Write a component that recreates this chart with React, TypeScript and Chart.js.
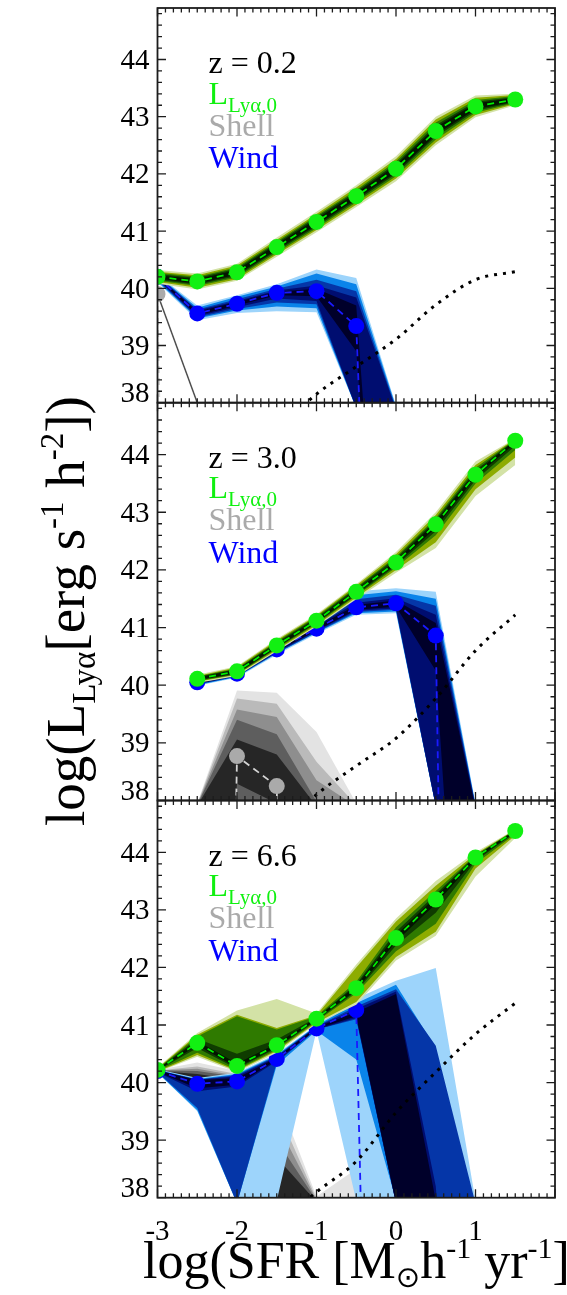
import { useEffect, useRef } from 'react';
import { Chart, registerables } from 'chart.js';

Chart.register(...registerables);

const SERIF = "'Liberation Serif', 'Times New Roman', serif";
const SYMBOL = "'DejaVu Sans', sans-serif";
const W = 567;
const H = 1295;

// log SFR grid shared by every curve
const logSFR = [-3, -2.5, -2, -1.5, -1, -0.5, 0, 0.5, 1, 1.5];
// stand-in for luminosities far below the plotted range
const F = 30;

const redshifts = ['0.2', '3.0', '6.6'];
const yTicks = [38, 39, 40, 41, 42, 43, 44];
const xTicks = [-3, -2, -1, 0, 1];

type Vals = (number | null)[];
type Band = [Vals, Vals]; // [lower, upper], outermost first

// ---------- z = 0.2 ----------
const z02IntrinsicMed: Vals = [40.2, 40.12, 40.28, 40.72, 41.16, 41.61, 42.09, 42.75, 43.18, 43.3];
const z02IntrinsicBands: Band[] = [
  [[40.08, 39.98, 40.13, 40.55, 40.98, 41.42, 41.87, 42.5, 42.99, 43.2], [40.32, 40.26, 40.43, 40.89, 41.34, 41.8, 42.31, 43.0, 43.37, 43.4]],
  [[40.11, 40.01, 40.16, 40.59, 41.02, 41.46, 41.92, 42.55, 43.03, 43.22], [40.29, 40.23, 40.4, 40.85, 41.3, 41.76, 42.26, 42.95, 43.33, 43.38]],
  [[40.13, 40.04, 40.19, 40.62, 41.05, 41.5, 41.96, 42.6, 43.07, 43.24], [40.27, 40.2, 40.37, 40.82, 41.27, 41.72, 42.22, 42.9, 43.29, 43.36]],
  [[40.15, 40.06, 40.215, 40.65, 41.08, 41.53, 42.0, 42.65, 43.1, 43.255], [40.25, 40.18, 40.345, 40.79, 41.24, 41.69, 42.18, 42.85, 43.26, 43.345]],
  [[40.17, 40.08, 40.24, 40.675, 41.11, 41.56, 42.03, 42.685, 43.13, 43.27], [40.23, 40.16, 40.32, 40.765, 41.21, 41.66, 42.15, 42.815, 43.23, 43.33]],
];
const z02ShellMed: Vals = [39.9, 0];
const z02ShellBands: Band[] = [
  [[39.85, 37.95], [39.95, 38.05]],
  [[39.86, 37.96], [39.94, 38.04]],
  [[39.87, 37.97], [39.93, 38.03]],
  [[39.88, 37.98], [39.92, 38.02]],
  [[39.89, 37.99], [39.91, 38.01]],
];
const z02WindMed: Vals = [40.2, 39.56, 39.73, 39.92, 39.95, 39.34, 22];
const z02WindBands: Band[] = [
  [[40.1, 39.44, 39.57, 39.6, 39.58, 37.9, F], [40.24, 39.7, 39.88, 40.07, 40.33, 40.18, 37.95]],
  [[40.12, 39.47, 39.61, 39.68, 39.65, 37.9, F], [40.23, 39.66, 39.85, 40.03, 40.26, 40.07, 37.93]],
  [[40.14, 39.49, 39.64, 39.75, 39.72, 37.9, F], [40.22, 39.63, 39.81, 39.99, 40.15, 39.95, 37.9]],
  [[40.16, 39.51, 39.67, 39.82, 39.78, 37.9, F], [40.21, 39.61, 39.78, 39.96, 40.05, 39.84, 37.88]],
  [[40.18, 39.53, 39.7, 39.88, 39.86, 38.9, F], [40.2, 39.59, 39.76, 39.94, 39.99, 39.7, F]],
];
const z02Model: Vals = [null, null, null, 37.5, 38.15, 38.63, 39.11, 39.71, 40.15, 40.29];

// ---------- z = 3.0 ----------
const z30IntrinsicMed: Vals = [null, 40.11, 40.24, 40.69, 41.12, 41.62, 42.13, 42.79, 43.65, 44.24];
const z30IntrinsicBands: Band[] = [
  [[null, 40.04, 40.16, 40.59, 41.02, 41.49, 41.95, 42.38, 43.28, 43.82], [null, 40.18, 40.33, 40.8, 41.23, 41.75, 42.31, 43.0, 43.88, 44.28]],
  [[null, 40.06, 40.18, 40.61, 41.04, 41.52, 42.0, 42.48, 43.4, 43.95], [null, 40.16, 40.31, 40.78, 41.21, 41.73, 42.27, 42.95, 43.82, 44.27]],
  [[null, 40.07, 40.19, 40.63, 41.06, 41.55, 42.04, 42.6, 43.5, 44.08], [null, 40.15, 40.29, 40.76, 41.19, 41.7, 42.23, 42.9, 43.77, 44.26]],
  [[null, 40.08, 40.2, 40.65, 41.08, 41.57, 42.07, 42.67, 43.56, 44.15], [null, 40.14, 40.28, 40.74, 41.17, 41.68, 42.2, 42.87, 43.73, 44.255]],
  [[null, 40.09, 40.21, 40.66, 41.09, 41.59, 42.1, 42.73, 43.61, 44.2], [null, 40.13, 40.27, 40.72, 41.15, 41.65, 42.16, 42.84, 43.69, 44.25]],
];
const z30ShellMed: Vals = [null, 0, 38.77, 38.25, 0];
const z30ShellBands: Band[] = [
  [[null, F, F, F, F, F], [null, 37.95, 39.91, 39.87, 39.19, 37.95]],
  [[null, F, F, F, F, F], [null, 37.94, 39.77, 39.68, 38.67, 37.92]],
  [[null, F, F, F, F, F], [null, 37.93, 39.58, 39.45, 38.35, 37.9]],
  [[null, F, F, F, F, F], [null, 37.92, 39.4, 39.15, 37.98, 37.9]],
  [[null, F, 38.29, 37.95, F, F], [null, 37.91, 39.06, 38.8, 37.9, 37.9]],
];
const z30WindMed: Vals = [null, 40.05, 40.2, 40.62, 40.98, 41.35, 41.42, 40.86, 0];
const z30WindBands: Band[] = [
  [[null, 39.99, 40.13, 40.53, 40.89, 41.22, 41.25, 37.9, F], [null, 40.1, 40.27, 40.72, 41.1, 41.63, 41.68, 41.62, 37.95]],
  [[null, 40.0, 40.14, 40.55, 40.91, 41.25, 41.28, 37.9, F], [null, 40.09, 40.25, 40.7, 41.08, 41.56, 41.63, 41.5, 37.93]],
  [[null, 40.01, 40.15, 40.56, 40.92, 41.27, 41.31, 37.9, F], [null, 40.08, 40.24, 40.68, 41.06, 41.49, 41.57, 41.38, 37.91]],
  [[null, 40.02, 40.16, 40.57, 40.94, 41.29, 41.33, 37.9, F], [null, 40.07, 40.23, 40.66, 41.03, 41.43, 41.51, 41.22, 37.9]],
  [[null, 40.03, 40.17, 40.59, 40.95, 41.31, 41.36, 40.25, F], [null, 40.06, 40.22, 40.64, 41.01, 41.39, 41.47, 41.08, 37.86]],
];
const z30Model: Vals = [null, null, null, 37.4, 38.1, 38.6, 39.08, 39.77, 40.6, 41.22];

// ---------- z = 6.6 ----------
const z66IntrinsicMed: Vals = [40.22, 40.69, 40.29, 40.65, 41.11, 41.64, 42.51, 43.18, 43.91, 44.37];
const z66IntrinsicBands: Band[] = [
  [[40.18, 40.45, 40.18, 40.52, 41.02, 41.35, 42.12, 42.55, 43.58, 44.25], [40.26, 40.86, 41.25, 41.45, 41.2, 42.05, 42.85, 43.5, 44.0, 44.4]],
  [[40.19, 40.48, 40.2, 40.55, 41.04, 41.4, 42.18, 42.62, 43.72, 44.29], [40.25, 40.83, 41.18, 40.95, 41.17, 42.0, 42.8, 43.42, 43.97, 44.39]],
  [[40.2, 40.52, 40.22, 40.57, 41.06, 41.55, 42.28, 42.76, 43.8, 44.32], [40.24, 40.8, 41.15, 40.92, 41.15, 41.75, 42.7, 43.33, 43.95, 44.39]],
  [[40.21, 40.6, 40.24, 40.6, 41.08, 41.58, 42.38, 42.95, 43.85, 44.34], [40.23, 40.76, 40.5, 40.75, 41.13, 41.71, 42.62, 43.27, 43.94, 44.38]],
  [[40.21, 40.65, 40.26, 40.62, 41.09, 41.61, 42.45, 43.1, 43.88, 44.35], [40.23, 40.72, 40.33, 40.68, 41.12, 41.68, 42.56, 43.23, 43.93, 44.38]],
];
const z66ShellMed: Vals = [];
const z66ShellBands: Band[] = [
  [[40.18, 39.9, 39.9, 37.9, 37.9, F, F], [40.22, 40.35, 40.2, 39.8, 38.02, 38.5, F]],
  [[40.18, 39.92, 39.92, 37.9, 37.9, F, F], [40.21, 40.28, 40.15, 39.55, 37.98, 38.0, F]],
  [[40.19, 39.94, 39.94, 37.9, 37.9, F, F], [40.21, 40.24, 40.12, 39.3, 37.96, 37.9, F]],
  [[40.19, 39.96, 39.96, 37.9, 37.9, F, F], [40.21, 40.2, 40.1, 39.0, 37.95, 37.9, F]],
  [[40.2, 39.98, 39.98, 37.9, F, F, F], [40.2, 40.15, 40.05, 38.7, 37.93, 37.9, F]],
];
const z66WindMed: Vals = [40.2, 39.98, 40.02, 40.41, 40.94, 41.26, 12];
const z66WindBands: Band[] = [
  [[40.17, 39.5, 37.9, 37.95, 40.9, 37.95, F, F, F], [40.23, 40.08, 40.17, 40.5, 41.0, 41.46, 41.77, 41.99, 37.95]],
  [[40.17, 39.52, 37.9, 40.3, 40.9, 40.4, 37.95, F, F], [40.22, 40.06, 40.15, 40.48, 40.99, 41.38, 41.7, 40.6, F]],
  [[40.18, 39.56, 37.9, 40.35, 40.92, 41.1, 37.9, F, F], [40.22, 40.05, 40.13, 40.46, 40.98, 41.32, 41.62, 40.64, 37.9]],
  [[40.18, 39.85, 39.93, 40.37, 40.92, 41.12, 37.9, F, F], [40.21, 40.05, 40.11, 40.45, 40.97, 41.28, 41.58, 38.2, F]],
  [[40.19, 39.9, 39.96, 40.39, 40.93, 41.15, 37.9, F, F], [40.21, 40.04, 40.08, 40.43, 40.96, 41.22, 41.54, 37.95, F]],
];
const z66Model: Vals = [null, null, null, 37.5, 38.1, 38.63, 39.48, 40.18, 40.84, 41.38];

// ---------- styling ----------
const INK = '#1c1c1c';
const GREEN_SHADES = ['#d3e2a6', '#8dac00', '#2f7a00', '#0f3c00', '#031500'];
const BLUE_SHADES = ['#9dd4fb', '#0a84ea', '#0536a8', '#000d70', '#00002a'];
const GREY_SHADES = ['#e3e3e3', '#bababa', '#8e8e8e', '#5e5e5e', '#262626'];
const NONE = 'rgba(0,0,0,0)';

const PLOT_LEFT = 157.5;
const PLOT_RIGHT = 555;
const Y_MIN = 38;
const Y_MAX = 44.9;
const X_MIN = -3;
const X_MAX = 2;

interface Curve {
  med: Vals;
  bands: Band[];
  shades: string[];
  dash: string;
  dot: string;
}

interface PanelSpec {
  z: string;
  top: number;
  bottom: number;
  shell: Curve;
  wind: Curve;
  intrinsic: Curve;
  model: Vals;
}

const greenCurve = (med: Vals, bands: Band[]): Curve => ({ med, bands, shades: GREEN_SHADES, dash: '#00f000', dot: '#12f012' });
const blueCurve = (med: Vals, bands: Band[]): Curve => ({ med, bands, shades: BLUE_SHADES, dash: '#1a1aff', dot: '#0000ff' });
const greyCurve = (med: Vals, bands: Band[]): Curve => ({ med, bands, shades: GREY_SHADES, dash: '#d4d4d4', dot: '#aaaaaa' });

const PANELS: PanelSpec[] = [
  { z: redshifts[0], top: 6, bottom: 402.7, shell: greyCurve(z02ShellMed, z02ShellBands), wind: blueCurve(z02WindMed, z02WindBands), intrinsic: greenCurve(z02IntrinsicMed, z02IntrinsicBands), model: z02Model },
  { z: redshifts[1], top: 402.7, bottom: 800.5, shell: greyCurve(z30ShellMed, z30ShellBands), wind: blueCurve(z30WindMed, z30WindBands), intrinsic: greenCurve(z30IntrinsicMed, z30IntrinsicBands), model: z30Model },
  { z: redshifts[2], top: 800.5, bottom: 1197.7, shell: greyCurve(z66ShellMed, z66ShellBands), wind: blueCurve(z66WindMed, z66WindBands), intrinsic: greenCurve(z66IntrinsicMed, z66IntrinsicBands), model: z66Model },
];

const pts = (ys: Vals) => logSFR.map((x, i) => ({ x, y: ys[i] === undefined ? null : ys[i] }));

function curveDatasets(c: Curve, base: number, start: number): any[] {
  const out: any[] = [];
  c.bands.forEach(([lo, hi], k) => {
    const upperIndex = start + out.length;
    out.push({
      data: pts(hi), fill: upperIndex + 1, backgroundColor: c.shades[k],
      borderColor: NONE, borderWidth: 0, pointRadius: 0, order: base - 2 * k, clip: 0,
    });
    out.push({
      data: pts(lo), fill: false, backgroundColor: NONE,
      borderColor: NONE, borderWidth: 0, pointRadius: 0, order: base - 2 * k - 1, clip: 0,
    });
  });
  if (c.med.length) {
    out.push({
      data: pts(c.med), fill: false, borderColor: c.dash, borderWidth: 1.8, borderDash: [7, 5],
      pointRadius: 8, pointBackgroundColor: c.dot, pointBorderWidth: 0, order: base - 20, clip: 0,
    });
  }
  return out;
}

type Run = { t: string; size: number; dy?: number; family?: string };

function runsWidth(ctx: CanvasRenderingContext2D, runs: Run[]) {
  let w = 0;
  for (const r of runs) {
    ctx.font = `${r.size}px ${r.family ?? SERIF}`;
    w += ctx.measureText(r.t).width;
  }
  return w;
}

function drawRuns(ctx: CanvasRenderingContext2D, runs: Run[], x: number, y: number) {
  let cx = x;
  for (const r of runs) {
    ctx.font = `${r.size}px ${r.family ?? SERIF}`;
    ctx.fillText(r.t, cx, y + (r.dy ?? 0));
    cx += ctx.measureText(r.t).width;
  }
}

function panelPlugin(spec: PanelSpec, last: boolean) {
  return {
    id: 'panelFrame',
    afterDraw(chart: any) {
      const { ctx, chartArea: a } = chart;
      const xs = chart.scales.x;
      const ys = chart.scales.y;
      ctx.save();

      // frame with inward ticks on all four sides
      ctx.strokeStyle = INK;
      ctx.lineWidth = 1.3;
      ctx.beginPath();
      for (let i = X_MIN * 10; i <= X_MAX * 10; i++) {
        const px = xs.getPixelForValue(i / 10);
        const len = i % 10 === 0 ? 8.5 : 4.5;
        ctx.moveTo(px, a.bottom); ctx.lineTo(px, a.bottom - len);
        ctx.moveTo(px, a.top); ctx.lineTo(px, a.top + len);
      }
      for (let i = Y_MIN * 5; i <= Math.floor(Y_MAX * 5); i++) {
        const py = ys.getPixelForValue(i / 5);
        const len = i % 5 === 0 ? 8.5 : 4.5;
        ctx.moveTo(a.left, py); ctx.lineTo(a.left + len, py);
        ctx.moveTo(a.right, py); ctx.lineTo(a.right - len, py);
      }
      ctx.stroke();
      ctx.lineWidth = 1.8;
      ctx.strokeRect(a.left, a.top, a.right - a.left, a.bottom - a.top);

      // y tick labels
      ctx.fillStyle = '#000';
      ctx.font = `29px ${SERIF}`;
      ctx.textAlign = 'right';
      ctx.textBaseline = 'alphabetic';
      for (const v of yTicks) {
        const py = ys.getPixelForValue(v);
        const base = v === Y_MIN ? a.bottom - 1 : py + 9.5;
        ctx.fillText(String(v), a.left - 8, base);
      }

      // in-panel key
      const kx = a.left + 51;
      ctx.textAlign = 'left';
      ctx.fillStyle = '#000';
      drawRuns(ctx, [{ t: `z = ${spec.z}`, size: 32 }], kx, a.top + 65);
      ctx.fillStyle = '#10f010';
      drawRuns(ctx, [{ t: 'L', size: 32 }, { t: 'Lyα,0', size: 21, dy: 8 }], kx, a.top + 95.5);
      ctx.fillStyle = '#aaaaaa';
      drawRuns(ctx, [{ t: 'Shell', size: 32 }], kx, a.top + 127.5);
      ctx.fillStyle = '#0000ff';
      drawRuns(ctx, [{ t: 'Wind', size: 32 }], kx, a.top + 160);

      if (last) {
        // x tick labels
        ctx.fillStyle = '#000';
        ctx.font = `29px ${SERIF}`;
        ctx.textAlign = 'center';
        for (const v of xTicks) {
          ctx.fillText(String(v), xs.getPixelForValue(v), a.bottom + 42.5);
        }
        ctx.textAlign = 'left';

        // x title
        const xTitle: Run[] = [
          { t: 'log(SFR [M', size: 52 },
          { t: '⊙', size: 29, dy: 9, family: SYMBOL },
          { t: 'h', size: 52 },
          { t: '-1', size: 30, dy: -20 },
          { t: ' yr', size: 52 },
          { t: '-1', size: 30, dy: -20 },
          { t: ']', size: 52 },
        ];
        drawRuns(ctx, xTitle, 143, 1278);

        // y title, rotated
        const yTitle: Run[] = [
          { t: 'log(L', size: 55 },
          { t: 'Lyα', size: 33, dy: 11 },
          { t: '[erg s', size: 55 },
          { t: '-1', size: 33, dy: -21 },
          { t: ' h', size: 55 },
          { t: '-2', size: 33, dy: -21 },
          { t: '])', size: 55 },
        ];
        const w = runsWidth(ctx, yTitle);
        ctx.save();
        ctx.translate(84, 611);
        ctx.rotate(-Math.PI / 2);
        drawRuns(ctx, yTitle, -w / 2, 0);
        ctx.restore();
      }
      ctx.restore();
    },
  };
}

function buildConfig(spec: PanelSpec, last: boolean): any {
  const datasets: any[] = [];
  datasets.push(...curveDatasets(spec.shell, 300, datasets.length));
  datasets.push(...curveDatasets(spec.wind, 200, datasets.length));
  datasets.push(...curveDatasets(spec.intrinsic, 100, datasets.length));
  datasets.push({
    data: pts(spec.model), fill: false, borderColor: '#000', borderWidth: 3, borderDash: [3, 6],
    pointRadius: 0, cubicInterpolationMode: 'monotone', order: 1, clip: 0,
  });
  return {
    type: 'line',
    data: { datasets },
    options: {
      animation: false,
      responsive: false,
      devicePixelRatio: 1,
      events: [],
      layout: { padding: { left: PLOT_LEFT, right: W - PLOT_RIGHT, top: spec.top, bottom: H - spec.bottom } },
      elements: { line: { tension: 0 }, point: { hoverRadius: 0 } },
      scales: {
        x: { type: 'linear', min: X_MIN, max: X_MAX, display: false },
        y: { type: 'linear', min: Y_MIN, max: Y_MAX, display: false },
      },
      plugins: { legend: { display: false }, tooltip: { enabled: false } },
    },
    plugins: [panelPlugin(spec, last)],
  };
}

export default function App() {
  const r0 = useRef<HTMLCanvasElement>(null);
  const r1 = useRef<HTMLCanvasElement>(null);
  const r2 = useRef<HTMLCanvasElement>(null);
  const refs = [r0, r1, r2];

  useEffect(() => {
    const charts = PANELS.map((p, i) => new Chart(refs[i].current as HTMLCanvasElement, buildConfig(p, i === PANELS.length - 1)));
    return () => charts.forEach((c) => c.destroy());
  }, []);

  return (
    <div style={{ position: 'absolute', left: 0, top: 0, width: W, height: H, background: '#fff' }}>
      {PANELS.map((_, i) => (
        <canvas
          key={i}
          ref={refs[i]}
          width={W}
          height={H}
          style={{ position: 'absolute', left: 0, top: 0, width: W, height: H }}
        />
      ))}
    </div>
  );
}
